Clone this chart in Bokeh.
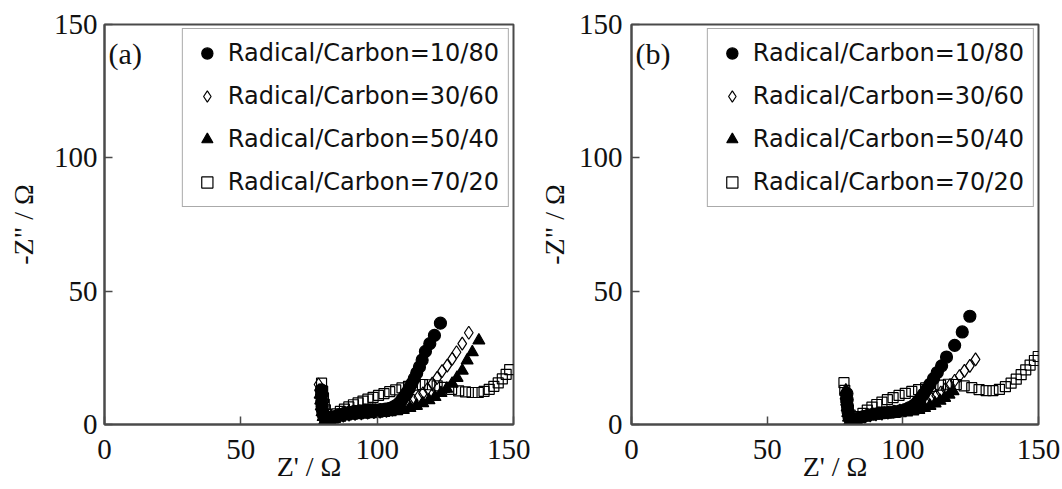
from bokeh.plotting import figure
from bokeh.models import Range1d, FixedTicker, Legend, LegendItem, Label
from bokeh.layouts import row
from bokeh.embed import file_html
from bokeh.resources import INLINE

labels = ["Radical/Carbon=10/80", "Radical/Carbon=30/60",
          "Radical/Carbon=50/40", "Radical/Carbon=70/20"]
ticks = [0, 50, 100, 150]
x_title = "Z' / \u03a9"
y_title = '-Z" / \u03a9'

# ---- panel (a) ----
a10_x = [79.5, 79.6, 79.7, 79.8, 80.0, 80.3, 80.8, 81.5, 82.4, 83.5, 84.8, 86.3, 88.0, 89.8, 91.7, 93.6, 95.5, 97.4, 99.3, 101.2, 103.0, 104.6, 106.0, 107.2, 108.2, 109.1, 110.0, 110.9, 111.8, 112.7, 113.6, 114.5, 115.5, 116.5, 117.7, 119.3, 121.0, 123.2]
a10_y = [13.0, 11.0, 8.8, 6.8, 5.0, 3.5, 2.4, 1.9, 2.0, 2.5, 3.1, 3.7, 4.2, 4.6, 4.9, 5.1, 5.3, 5.4, 5.5, 5.6, 5.8, 6.1, 6.6, 7.3, 8.2, 9.3, 10.6, 12.0, 13.6, 15.3, 17.2, 19.3, 21.6, 24.2, 27.4, 30.3, 33.4, 38.0]
a30_x = [78.5, 78.7, 78.9, 79.1, 79.4, 79.8, 80.4, 81.2, 82.3, 83.8, 85.6, 87.6, 89.7, 91.9, 94.2, 96.5, 98.8, 101.1, 103.4, 105.6, 107.7, 109.7, 111.6, 113.4, 115.1, 116.8, 118.5, 120.2, 122.0, 123.8, 125.7, 127.5, 129.1, 131.2, 133.6]
a30_y = [15.0, 12.8, 10.2, 7.6, 5.2, 3.2, 1.8, 1.3, 1.6, 2.2, 2.8, 3.3, 3.7, 4.0, 4.2, 4.4, 4.6, 4.8, 5.1, 5.6, 6.2, 7.0, 7.9, 9.0, 10.3, 11.7, 13.4, 15.3, 17.5, 20.0, 22.1, 24.6, 27.1, 30.3, 34.4]
a50_x = [79.1, 79.3, 79.5, 79.8, 80.2, 80.8, 81.6, 82.8, 84.4, 86.3, 88.4, 90.6, 92.9, 95.2, 97.6, 100.0, 102.4, 104.8, 107.2, 109.6, 112.0, 114.4, 116.7, 119.0, 121.2, 123.4, 125.5, 127.5, 129.3, 131.2, 133.0, 134.9, 137.3]
a50_y = [11.2, 9.0, 6.8, 4.6, 2.8, 1.5, 1.1, 1.5, 2.1, 2.6, 3.0, 3.3, 3.5, 3.7, 3.9, 4.1, 4.3, 4.6, 5.0, 5.5, 6.2, 7.0, 8.0, 9.1, 10.3, 11.8, 13.4, 15.3, 17.5, 20.2, 24.0, 27.1, 31.5]
a70_x = [79.6, 80.0, 80.3, 80.6, 81.0, 81.5, 82.1, 82.9, 84.0, 85.2, 86.5, 88.0, 89.6, 91.3, 93.0, 94.8, 96.6, 98.5, 100.5, 102.5, 104.6, 106.8, 109.1, 111.5, 114.0, 116.6, 119.3, 122.0, 124.7, 127.3, 129.9, 132.4, 134.8, 137.1, 139.2, 141.1, 142.8, 144.4, 145.9, 147.3, 148.6]
a70_y = [15.5, 12.5, 10.0, 7.6, 5.5, 3.8, 2.6, 2.0, 3.0, 4.0, 4.9, 5.8, 6.6, 7.4, 8.1, 8.8, 9.5, 10.2, 10.9, 11.6, 12.3, 13.0, 13.7, 14.3, 14.8, 15.0, 14.9, 14.5, 13.9, 13.2, 12.6, 12.2, 12.0, 12.0, 12.4, 13.2, 14.3, 15.6, 17.1, 18.8, 20.6]

# ---- panel (b) ----
b10_x = [79.4, 79.5, 79.6, 79.8, 80.1, 80.6, 81.4, 82.5, 83.9, 85.5, 87.3, 89.2, 91.2, 93.2, 95.2, 97.1, 99.0, 100.8, 102.5, 104.0, 105.3, 106.5, 107.6, 108.8, 110.0, 111.3, 112.7, 114.3, 116.1, 119.1, 121.9, 124.7]
b10_y = [11.6, 9.3, 7.0, 4.8, 3.0, 1.8, 1.4, 1.8, 2.4, 3.0, 3.5, 3.9, 4.2, 4.4, 4.6, 4.8, 5.1, 5.6, 6.3, 7.2, 8.4, 9.8, 11.4, 13.2, 15.1, 17.2, 19.5, 22.0, 25.3, 29.7, 34.7, 40.6]
b30_x = [79.0, 79.2, 79.4, 79.6, 80.0, 80.5, 81.4, 82.6, 84.2, 86.0, 88.0, 90.1, 92.3, 94.5, 96.7, 98.9, 101.0, 103.1, 105.1, 107.0, 108.8, 110.6, 112.3, 114.0, 115.7, 117.4, 119.1, 120.9, 122.7, 124.7, 126.8]
b30_y = [11.8, 9.6, 7.3, 5.0, 3.0, 1.7, 1.3, 1.7, 2.3, 2.9, 3.4, 3.8, 4.1, 4.4, 4.8, 5.2, 5.7, 6.3, 7.0, 7.8, 8.7, 9.7, 10.8, 12.0, 13.3, 14.8, 16.4, 18.2, 20.1, 22.0, 24.4]
b50_x = [79.0, 79.1, 79.3, 79.5, 79.7, 80.0, 80.5, 81.3, 82.5, 84.1, 85.9, 87.9, 90.0, 92.2, 94.5, 96.8, 99.1, 101.4, 103.7, 105.9, 108.0, 110.0, 111.9, 113.7, 115.4, 117.0, 118.5]
b50_y = [12.8, 10.8, 8.6, 6.4, 4.3, 2.6, 1.4, 1.1, 1.6, 2.2, 2.7, 3.1, 3.4, 3.6, 3.8, 4.0, 4.2, 4.5, 4.9, 5.5, 6.2, 7.0, 7.9, 8.9, 10.0, 11.2, 12.5]
b70_x = [78.3, 78.6, 79.0, 79.4, 79.9, 80.6, 81.5, 82.6, 83.9, 85.3, 86.9, 88.6, 90.4, 92.3, 94.3, 96.4, 98.6, 100.9, 103.3, 105.8, 108.4, 111.1, 113.9, 116.8, 119.7, 122.6, 125.4, 128.1, 130.7, 133.2, 135.6, 137.8, 139.9, 141.8, 143.6, 145.3, 146.9, 148.5, 149.9]
b70_y = [15.7, 12.8, 10.0, 7.4, 5.2, 3.5, 2.4, 2.2, 3.0, 4.2, 5.4, 6.5, 7.5, 8.4, 9.3, 10.1, 10.9, 11.7, 12.4, 13.1, 13.7, 14.3, 14.8, 15.1, 15.0, 14.5, 13.8, 13.1, 12.7, 12.7, 13.2, 14.2, 15.5, 17.0, 18.7, 20.5, 22.3, 24.0, 25.5]

SERIF = "Liberation Serif"
FRAME = "#4a4a4a"
FIG_H = 488

styles = [
    dict(marker="circle", size=12, fill_color="black", line_color="black"),
    dict(marker="diamond", size=13, fill_color=None, line_color="black"),
    dict(marker="triangle", size=12, fill_color="black", line_color="black"),
    dict(marker="square", size=10, fill_color=None, line_color="black"),
]


def make_panel(tag, series, width, b_left, b_right, b_top, frame_bottom, ystand, ylab_stand, xlab_stand):
    p = figure(width=width, height=FIG_H, x_range=Range1d(0, 150), y_range=Range1d(0, 150),
               output_backend="svg", toolbar_location=None,
               min_border_left=b_left, min_border_right=b_right,
               min_border_top=b_top, min_border_bottom=FIG_H - frame_bottom,
               background_fill_color="white", border_fill_color="white")
    p.xgrid.visible = False
    p.ygrid.visible = False
    p.outline_line_color = FRAME
    p.outline_line_width = 2
    for ax in (p.xaxis[0], p.yaxis[0]):
        ax.ticker = FixedTicker(ticks=ticks)
        ax.major_tick_in = 8
        ax.major_tick_out = 0
        ax.minor_tick_line_color = None
        ax.axis_line_color = FRAME
        ax.axis_line_width = 2
        ax.major_tick_line_color = FRAME
        ax.major_tick_line_width = 1.5
        ax.major_label_text_font = SERIF
        ax.major_label_text_font_size = "29px"
        ax.major_label_text_color = "#111111"
        ax.axis_label_text_font = SERIF
        ax.axis_label_text_font_size = "28px"
        ax.axis_label_text_font_style = "normal"
        ax.axis_label_text_color = "#111111"
    p.xaxis[0].major_label_standoff = 15
    p.xaxis[0].axis_label = x_title
    p.xaxis[0].axis_label_standoff = xlab_stand
    p.yaxis[0].major_label_standoff = ystand
    p.yaxis[0].axis_label = y_title
    p.yaxis[0].axis_label_standoff = ylab_stand

    rends = {}
    for i in [3, 1, 2, 0]:
        xs, ys = series[i]
        st = styles[i]
        rends[i] = p.scatter(xs, ys, marker=st["marker"], size=st["size"],
                             fill_color=st["fill_color"], line_color=st["line_color"],
                             line_width=1.2)
    items = [LegendItem(label=labels[i], renderers=[rends[i]]) for i in range(4)]
    leg = Legend(items=items, location="top_right", margin=4, padding=9, spacing=13,
                 glyph_width=30, glyph_height=28, label_height=30, label_standoff=6,
                 label_text_font="DejaVu Sans", label_text_font_size="24px",
                 label_text_color="#111111",
                 border_line_color="#555555", border_line_width=1.5,
                 background_fill_color="white", background_fill_alpha=1.0)
    p.add_layout(leg)

    p.add_layout(Label(x=1.5, y=139, text=tag, text_font=SERIF, text_font_size="30px",
                       text_baseline="middle", text_align="left", text_color="#111111"))
    return p


pa = make_panel("(a)", [(a10_x, a10_y), (a30_x, a30_y), (a50_x, a50_y), (a70_x, a70_y)],
                width=530, b_left=104, b_right=17, b_top=24, frame_bottom=424,
                ystand=7, ylab_stand=12, xlab_stand=-11)
pb = make_panel("(b)", [(b10_x, b10_y), (b30_x, b30_y), (b50_x, b50_y), (b70_x, b70_y)],
                width=530, b_left=101, b_right=22, b_top=21, frame_bottom=424,
                ystand=9, ylab_stand=6, xlab_stand=-11)

layout = row(pa, pb)
open("out.html", "w").write(file_html(layout, INLINE))
